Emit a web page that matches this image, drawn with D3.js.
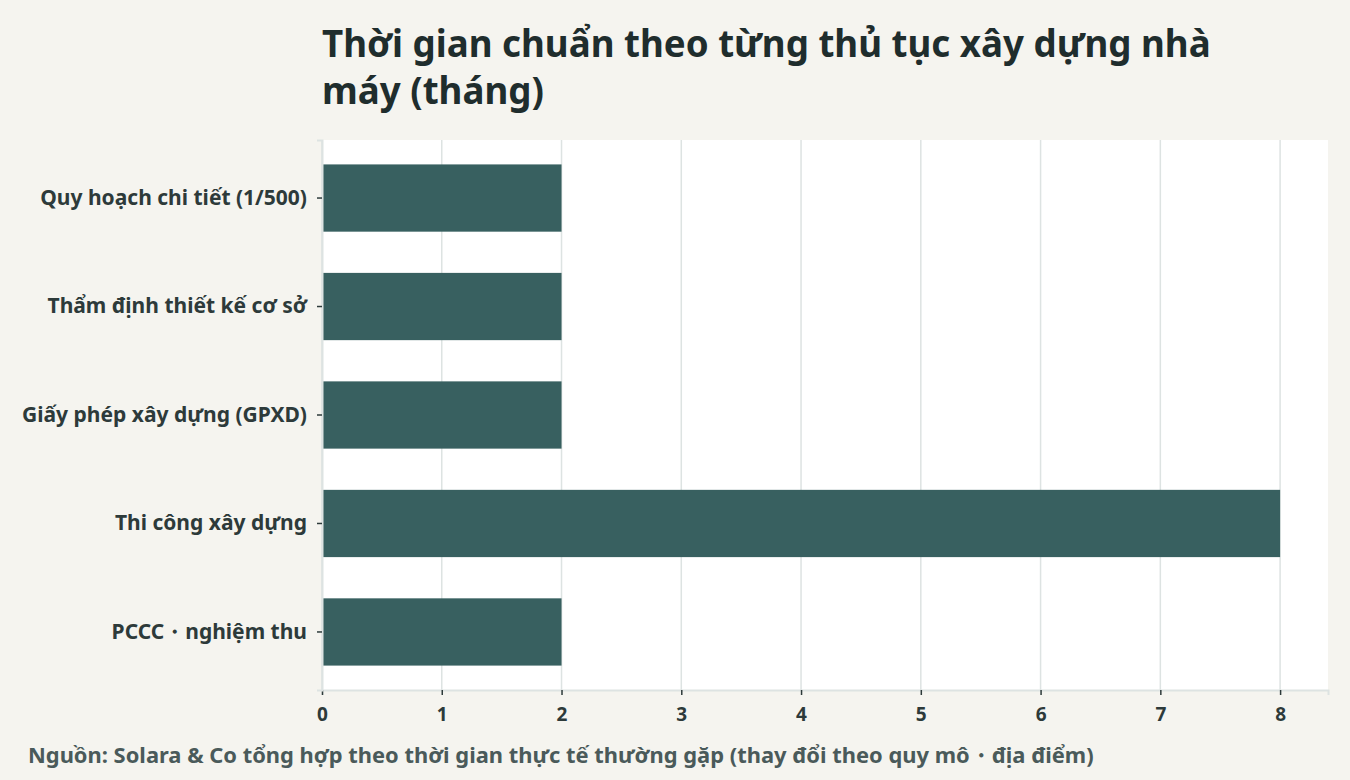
<!DOCTYPE html>
<html>
<head>
<meta charset="utf-8">
<script src="https://cdn.jsdelivr.net/npm/d3@7"></script>
<style>
  body { margin: 0; background: #f5f4ef; }
  svg { font-family: "Noto Sans", "Open Sans", sans-serif; font-weight: 700; }
</style>
</head>
<body>
<svg width="1350" height="780"></svg>
<script>
const steps = ['Quy hoạch chi tiết (1/500)', 'Thẩm định thiết kế cơ sở', 'Giấy phép xây dựng (GPXD)', 'Thi công xây dựng', 'PCCC・nghiệm thu']
const months = [2, 2, 2, 8, 2]
const xTicks = [0, 1, 2, 3, 4, 5, 6, 7, 8]
const titleLines = ['Thời gian chuẩn theo từng thủ tục xây dựng nhà', 'máy (tháng)']
const source = 'Nguồn: Solara & Co tổng hợp theo thời gian thực tế thường gặp (thay đổi theo quy mô・địa điểm)'

const margin = {top: 140, right: 22, bottom: 90, left: 322}
const width = 1350 - margin.left - margin.right
const height = 780 - margin.top - margin.bottom

const svg = d3.select('svg')
svg.append('rect').attr('width', 1350).attr('height', 780).attr('fill', '#f5f4ef')

const g = svg.append('g').attr('transform', `translate(${margin.left},${margin.top})`)

const x = d3.scaleLinear().domain([0, 8.4]).range([0, width])
const y = d3.scaleBand().domain(steps).range([0, height]).paddingInner(0.38).paddingOuter(0.225)

// panel
g.append('rect').attr('width', width).attr('height', height).attr('fill', '#fff')

// grid
g.selectAll('line.grid')
  .data(xTicks)
  .join('line')
  .attr('class', 'grid')
  .attr('x1', d => x(d)).attr('x2', d => x(d))
  .attr('y1', 0).attr('y2', height)
  .attr('stroke', '#dde3e2')
  .attr('stroke-width', 1.5)

// bars
g.selectAll('rect.bar')
  .data(months)
  .join('rect')
  .attr('class', 'bar')
  .attr('x', x(0))
  .attr('y', (d, i) => y(steps[i]))
  .attr('width', d => x(d) - x(0))
  .attr('height', y.bandwidth())
  .attr('fill', '#386060')

// x axis
const xAxis = g.append('g')
  .attr('transform', `translate(0,${height})`)
  .call(d3.axisBottom(x).tickValues(xTicks).tickSize(5).tickPadding(13).tickFormat(d3.format('d')))
xAxis.select('.domain').attr('stroke', '#dde3e2').attr('stroke-width', 2)
xAxis.selectAll('.tick line').attr('stroke', '#2d3a3a').attr('stroke-width', 1.5)
xAxis.selectAll('.tick text').attr('fill', '#2d3a3a').attr('font-size', 19).attr('font-weight', 700)
  .attr('font-family', '"Noto Sans", sans-serif')

// y axis
const yAxis = g.append('g')
  .call(d3.axisLeft(y).tickSize(5).tickPadding(10))
yAxis.select('.domain').attr('stroke', '#dde3e2').attr('stroke-width', 2)
yAxis.selectAll('.tick line').attr('stroke', '#2d3a3a').attr('stroke-width', 1.5)
yAxis.selectAll('.tick text').attr('fill', '#2d3a3a').attr('font-size', 21).attr('font-weight', 700)
  .attr('font-family', '"Noto Sans", sans-serif')

// title
svg.append('text')
  .attr('x', margin.left)
  .attr('y', 57)
  .attr('fill', '#1f2d2d')
  .attr('font-size', 36.7)
  .selectAll('tspan')
  .data(titleLines)
  .join('tspan')
  .attr('x', margin.left)
  .attr('dy', (d, i) => i === 0 ? 0 : 47)
  .text(d => d)

// source
svg.append('text')
  .attr('x', 28)
  .attr('y', 763)
  .attr('fill', '#4a5a5a')
  .attr('font-size', 21.9)
  .text(source)
</script>
</body>
</html>
